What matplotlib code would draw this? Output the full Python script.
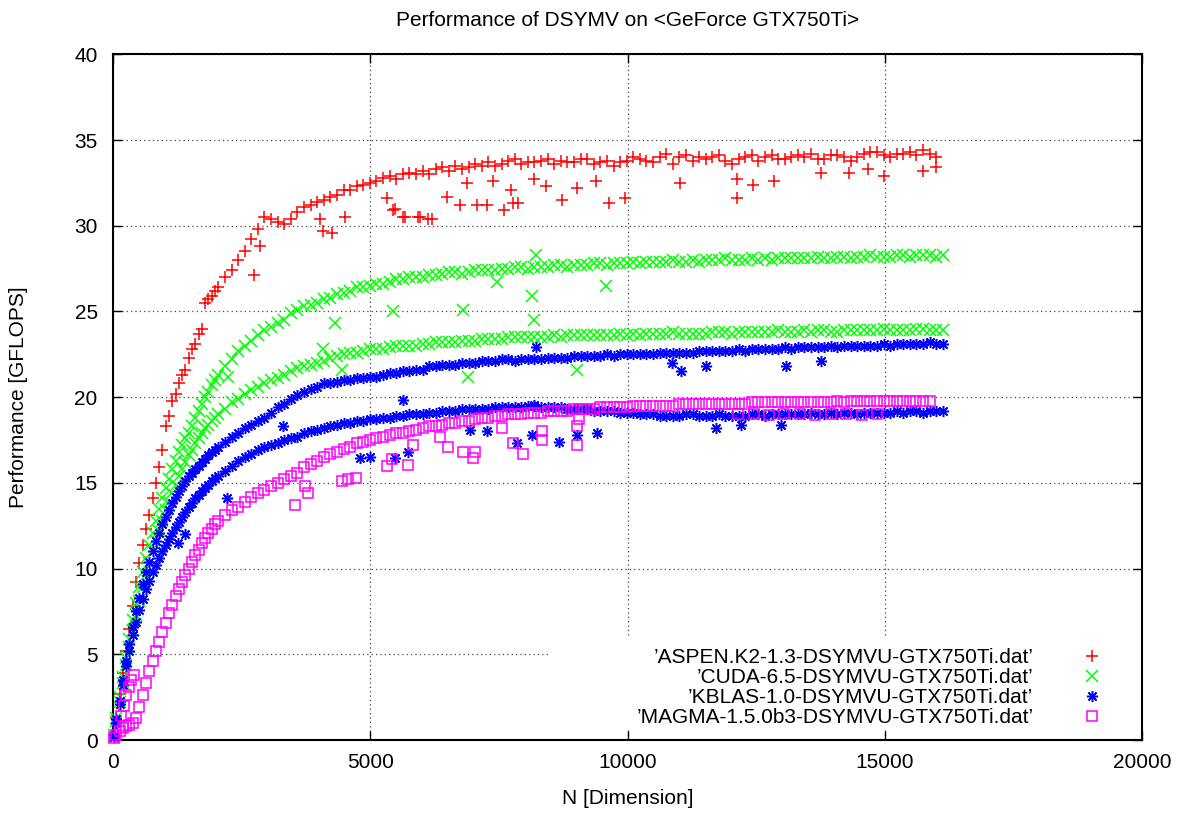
import matplotlib
matplotlib.use("Agg")
import matplotlib.pyplot as plt
from matplotlib.patches import Rectangle

plt.rcParams['font.family'] = ['Liberation Sans', 'DejaVu Sans']
nan = float('nan')

# matrix dimension sweep
N_LO = [16, 64, 128, 192, 256, 320, 384, 448,
        512, 576, 640, 704, 768, 832, 896, 960,
        1024, 1088, 1152, 1216, 1280, 1344, 1408, 1472,
        1536, 1600, 1664, 1728, 1792, 1856, 1920, 1984]
N_HI = [2048, 2176, 2304, 2432, 2560, 2688, 2816, 2944,
        3072, 3200, 3328, 3456, 3584, 3712, 3840, 3968,
        4096, 4224, 4352, 4480, 4608, 4736, 4864, 4992,
        5120, 5248, 5376, 5504, 5632, 5760, 5888, 6016,
        6144, 6272, 6400, 6528, 6656, 6784, 6912, 7040,
        7168, 7296, 7424, 7552, 7680, 7808, 7936, 8064,
        8192, 8320, 8448, 8576, 8704, 8832, 8960, 9088,
        9216, 9344, 9472, 9600, 9728, 9856, 9984, 10112,
        10240, 10368, 10496, 10624, 10752, 10880, 11008, 11136,
        11264, 11392, 11520, 11648, 11776, 11904, 12032, 12160,
        12288, 12416, 12544, 12672, 12800, 12928, 13056, 13184,
        13312, 13440, 13568, 13696, 13824, 13952, 14080, 14208,
        14336, 14464, 14592, 14720, 14848, 14976, 15104, 15232,
        15360, 15488, 15616, 15744, 15872, 16000, 16128, 16256]
N = N_LO + N_HI

# ASPEN.K2 [GFLOPS]
aspen = [0.3, 1.3, 2.7, 3.9, 5.2, 6.5, 7.8, 9.2,
         10.3, 11.4, 12.3, 13.1, 14.1, 15.0, 15.9, 16.9,
         18.3, 18.9, 19.8, 20.2, 20.8, 21.3, 21.6, 22.3,
         22.8, 23.1, 23.7, 24.0, 25.5, 25.7, 25.9, 26.2,
         26.4, 27.0, 27.4, 28.0, 28.5, 29.2, 29.8, 30.5,
         30.4, 30.2, 30.1, 30.4, 30.8, 31.1, 31.2, 31.4,
         31.5, 31.7, 31.8, 32.1, 32.1, 32.3, 32.4, 32.5,
         32.6, 32.8, 32.9, 32.7, 33.0, 33.1, 33.0, 33.2,
         33.0, 33.3, 33.4, 33.2, 33.5, 33.3, 33.4, 33.6,
         33.5, 33.7, 33.5, 33.6, 33.8, 33.9, 33.6, 33.7,
         33.7, 33.8, 33.9, 33.6, 33.8, 33.7, 33.7, 33.9,
         33.9, 33.6, 33.7, 33.8, 33.5, 33.7, 33.8, 34.0,
         33.9, 33.8, 33.7, 34.0, 34.2, 33.6, 34.0, 34.1,
         33.8, 34.0, 33.9, 34.0, 34.1, 33.8, 33.6, 33.9,
         34.0, 34.1, 33.8, 34.0, 34.1, 33.9, 33.9, 34.0,
         34.1, 34.0, 34.2, 33.9, 33.9, 34.1, 34.1, 34.0,
         33.8, 34.0, 34.2, 34.3, 34.3, 34.1, 34.0, 34.2,
         34.2, 34.3, 34.1, 34.4, 34.2, 34.0, nan, nan]
aspen_out_n = [2744, 2860, 4028, 4086, 4256, 4515, 5326, 5449, 5488, 5643,
               5683, 5935, 5974, 6130, 6200, 6494, 6753, 6883, 7077, 7272,
               7395, 7590, 7726, 7784, 7880, 8175, 8407, 8730, 9023, 9380,
               9632, 9944, 11015, 12123, 12136, 12448, 12846, 13760, 14305, 14670,
               14986, 15737, 16000]
aspen_out_v = [27.1, 28.8, 30.4, 29.7, 29.6, 30.5, 31.6, 30.9, 31.0, 30.5,
               30.5, 30.5, 30.5, 30.4, 30.4, 31.7, 31.2, 32.5, 31.2, 31.2,
               32.6, 30.9, 32.1, 31.3, 31.3, 32.7, 32.3, 31.5, 32.2, 32.6,
               31.3, 31.6, 32.5, 31.6, 32.7, 32.4, 32.6, 33.1, 33.1, 33.3,
               32.9, 33.2, 33.4]

# CUDA-6.5, runs split into two performance levels
cuda_hi = [0.3, 1.3, 2.5, 3.7, 4.8, 5.9, 7.0, 8.0,
           8.9, 9.8, 10.6, 11.4, 12.1, 12.8, 13.5, 14.1,
           14.7, 15.2, 15.8, 16.3, 16.8, 17.2, 17.6, 17.9,
           18.3, 18.8, 19.2, 19.6, 20.0, 20.3, 20.7, 21.0,
           21.3, 21.8, 22.2, 22.7, 23.0, 23.3, 23.6, 23.9,
           24.1, 24.3, 24.5, 24.9, 25.1, 25.3, 25.4, 25.5,
           25.7, 25.8, 26.0, 26.1, 26.2, 26.4, 26.4, 26.5,
           26.6, 26.6, 26.7, 26.9, 26.9, 27.0, 27.0, 27.0,
           27.1, 27.1, 27.2, 27.3, 27.3, 27.2, 27.3, 27.4,
           27.4, 27.4, 27.4, 27.5, 27.5, 27.6, 27.6, 27.5,
           27.6, 27.6, 27.6, 27.7, 27.7, 27.6, 27.7, 27.7,
           27.7, 27.8, 27.8, 27.7, 27.8, 27.8, 27.8, 27.9,
           27.8, 27.9, 27.9, 27.9, 27.9, 28.0, 27.9, 27.9,
           28.0, 27.9, 28.0, 28.0, 28.0, 28.1, 28.0, 28.0,
           28.0, 28.1, 28.0, 28.1, 28.0, 28.1, 28.1, 28.1,
           28.1, 28.1, 28.1, 28.2, 28.1, 28.1, 28.2, 28.2,
           28.1, 28.2, 28.2, 28.3, 28.2, 28.2, 28.2, 28.3,
           28.3, 28.2, 28.3, 28.3, 28.3, 28.2, 28.3, nan]
cuda_lo = [0.2, 1.1, 2.2, 3.3, 4.4, 5.4, 6.4, 7.3,
           8.1, 8.9, 9.6, 10.3, 11.0, 11.6, 12.2, 12.8,
           13.4, 13.9, 14.4, 14.9, 15.4, 15.8, 16.2, 16.6,
           16.9, 17.3, 17.6, 17.9, 18.2, 18.4, 18.6, 18.8,
           19.0, 19.3, 19.7, 19.9, 20.2, 20.4, 20.6, 20.8,
           21.0, 21.1, 21.3, 21.5, 21.7, 21.8, 21.9, 22.0,
           22.1, 22.3, 22.4, 22.5, 22.6, 22.6, 22.7, 22.8,
           22.8, 22.8, 22.9, 23.0, 23.0, 23.0, 23.0, 23.1,
           23.1, 23.2, 23.2, 23.2, 23.2, 23.3, 23.3, 23.3,
           23.4, 23.4, 23.4, 23.4, 23.5, 23.5, 23.5, 23.5,
           23.5, 23.5, 23.5, 23.6, 23.5, 23.6, 23.6, 23.6,
           23.6, 23.6, 23.6, 23.6, 23.6, 23.7, 23.6, 23.7,
           23.6, 23.7, 23.7, 23.7, 23.7, 23.8, 23.7, 23.7,
           23.7, 23.7, 23.7, 23.8, 23.8, 23.8, 23.7, 23.8,
           23.8, 23.8, 23.8, 23.8, 23.8, 23.9, 23.8, 23.8,
           23.8, 23.9, 23.8, 23.9, 23.9, 23.8, 23.8, 23.9,
           23.9, 23.9, 23.9, 23.9, 23.9, 24.0, 23.9, 23.9,
           23.9, 23.9, 24.0, 24.0, 23.9, 23.9, 23.9, nan]
cuda_out_n = [2238, 4086, 4320, 4450, 5449, 6811, 6908, 7466, 8147, 8175, 8212, 9023, 9574]
cuda_out_v = [21.2, 22.8, 24.3, 21.6, 25.0, 25.1, 21.2, 26.7, 25.9, 24.5, 28.3, 21.6, 26.5]

# KBLAS-1.0, two performance levels
kblas_hi = [0.3, 1.2, 2.3, 3.5, 4.6, 5.6, 6.6, 7.5,
            8.3, 9.1, 9.8, 10.4, 11.0, 11.6, 12.1, 12.6,
            13.0, 13.4, 13.8, 14.2, 14.5, 14.8, 15.1, 15.4,
            15.6, 15.8, 16.0, 16.2, 16.4, 16.6, 16.8, 16.9,
            17.1, 17.4, 17.7, 17.9, 18.2, 18.4, 18.6, 18.8,
            19.1, 19.4, 19.6, 19.9, 20.1, 20.3, 20.5, 20.6,
            20.8, 20.8, 20.9, 21.0, 21.0, 21.1, 21.1, 21.2,
            21.2, 21.3, 21.4, 21.4, 21.5, 21.5, 21.6, 21.6,
            21.8, 21.8, 21.9, 21.9, 21.9, 22.0, 22.0, 22.0,
            22.1, 22.1, 22.1, 22.2, 22.2, 22.1, 22.2, 22.2,
            22.2, 22.2, 22.3, 22.3, 22.3, 22.3, 22.4, 22.4,
            22.4, 22.4, 22.4, 22.5, 22.4, 22.5, 22.5, 22.5,
            22.5, 22.5, 22.5, 22.6, 22.6, 22.6, 22.6, 22.6,
            22.6, 22.7, 22.7, 22.7, 22.7, 22.7, 22.7, 22.8,
            22.7, 22.8, 22.8, 22.8, 22.8, 22.8, 22.9, 22.8,
            22.9, 22.9, 22.9, 22.9, 22.9, 23.0, 22.9, 23.0,
            23.0, 23.0, 23.0, 23.0, 23.0, 23.1, 23.0, 23.1,
            23.1, 23.1, 23.1, 23.1, 23.2, 23.1, 23.1, nan]
kblas_lo = [0.2, 1.0, 2.1, 3.2, 4.3, 5.2, 6.1, 6.9,
            7.6, 8.2, 8.8, 9.3, 9.8, 10.2, 10.6, 11.0,
            11.4, 11.7, 12.1, 12.4, 12.7, 13.0, 13.3, 13.6,
            13.8, 14.1, 14.3, 14.5, 14.7, 14.9, 15.1, 15.3,
            15.4, 15.7, 16.0, 16.3, 16.5, 16.7, 16.9, 17.1,
            17.2, 17.3, 17.5, 17.6, 17.7, 17.9, 18.0, 18.1,
            18.2, 18.3, 18.4, 18.5, 18.5, 18.6, 18.6, 18.7,
            18.7, 18.8, 18.8, 18.9, 18.9, 19.0, 19.0, 19.0,
            19.1, 19.1, 19.2, 19.2, 19.2, 19.3, 19.3, 19.3,
            19.3, 19.3, 19.4, 19.4, 19.4, 19.4, 19.4, 19.5,
            19.5, 19.4, 19.4, 19.4, 19.4, 19.3, 19.3, 19.3,
            19.3, 19.2, 19.2, 19.2, 19.2, 19.1, 19.1, 19.1,
            19.0, 19.0, 19.0, 18.9, 18.9, 18.9, 18.9, 19.0,
            19.0, 18.9, 18.9, 18.9, 19.0, 18.9, 18.9, 18.9,
            18.9, 19.0, 19.0, 18.9, 19.0, 19.0, 19.0, 19.0,
            19.0, 19.0, 19.1, 19.0, 19.0, 19.1, 19.0, 19.1,
            19.1, 19.0, 19.1, 19.1, 19.1, 19.1, 19.1, 19.2,
            19.1, 19.2, 19.2, 19.1, 19.2, 19.2, 19.2, nan]
kblas_out_n = [1265, 1401, 2212, 3308, 4806, 5000, 5488, 5643, 5741, 6947,
               7272, 7856, 8147, 8175, 8212, 8660, 9023, 9412, 10872, 11034,
               11520, 11714, 12200, 12980, 13077, 13760]
kblas_out_v = [11.5, 12.0, 14.1, 18.3, 16.45, 16.5, 16.45, 19.85, 16.8, 18.1,
               18.0, 17.3, 17.8, 19.55, 22.95, 17.4, 17.8, 17.9, 22.0, 21.5,
               21.8, 18.2, 18.4, 18.4, 21.8, 22.1]

# MAGMA-1.5.0b3
magma = [0.1, 0.3, 0.5, 0.7, 0.8, 0.9, 1.0, 1.3,
         1.9, 2.6, 3.3, 4.0, 4.6, 5.2, 5.7, 6.3,
         6.8, 7.4, 7.9, 8.4, 8.8, 9.2, 9.6, 10.0,
         10.4, 10.8, 11.1, 11.5, 11.8, 12.1, 12.3, 12.6,
         12.8, 13.1, 13.4, 13.6, 13.9, 14.2, 14.4, 14.6,
         14.8, 15.0, 15.2, 15.4, 15.6, 15.9, 16.1, 16.3,
         16.5, 16.7, 16.8, 17.0, 17.1, 17.3, 17.4, 17.5,
         17.6, 17.7, 17.8, 17.9, 17.9, 18.0, 18.1, 18.2,
         18.3, 18.3, 18.4, 18.5, 18.5, 18.6, 18.6, 18.7,
         18.8, 18.8, 18.9, 18.9, 19.0, 19.0, 19.0, 19.1,
         19.1, 19.1, 19.2, 19.2, 19.2, 19.2, 19.3, 19.3,
         19.3, 19.3, 19.4, 19.4, 19.4, 19.4, 19.4, 19.5,
         19.5, 19.5, 19.5, 19.5, 19.5, 19.5, 19.6, 19.6,
         19.6, 19.6, 19.6, 19.6, 19.6, 19.6, 19.6, 19.6,
         19.6, 19.7, 19.7, 19.7, 19.7, 19.7, 19.7, 19.7,
         19.7, 19.7, 19.7, 19.7, 19.7, 19.7, 19.8, 19.7,
         19.8, 19.8, 19.8, 19.8, 19.8, 19.8, 19.8, 19.8,
         19.8, 19.8, 19.8, 19.8, 19.8, nan, nan, nan]
magma_out_n = [160, 208, 256, 304, 352, 400,
               3542, 3736, 3795, 4450, 4573, 4729, 5326, 5423, 5741, 5838,
               6363, 6519, 6811, 7006, 7045, 7564, 7784, 7978, 8342, 8342,
               9023, 9023, 9050, 12150, 12450, 12750, 13050, 13350, 13650, 13950,
               14250, 14550, 14850]
magma_out_v = [1.4, 2.0, 2.6, 3.1, 3.5, 3.8,
               13.7, 14.8, 14.4, 15.1, 15.2, 15.3, 16.0, 16.4, 16.05, 17.2,
               17.65, 17.1, 16.8, 16.45, 16.8, 18.2, 17.3, 16.7, 18.0, 17.5,
               18.3, 17.2, 18.7, 19.0, 19.0, 18.95, 19.0, 19.0, 18.95, 19.0,
               19.0, 18.95, 19.0]

for arr in (aspen, cuda_hi, cuda_lo, kblas_hi, kblas_lo, magma):
    assert len(arr) == len(N), len(arr)

labels = ["\u2019ASPEN.K2-1.3-DSYMVU-GTX750Ti.dat\u2019",
          "\u2019CUDA-6.5-DSYMVU-GTX750Ti.dat\u2019",
          "\u2019KBLAS-1.0-DSYMVU-GTX750Ti.dat\u2019",
          "\u2019MAGMA-1.5.0b3-DSYMVU-GTX750Ti.dat\u2019"]

series = [
    (N + aspen_out_n, aspen + aspen_out_v, '+', '#ff0000'),
    (N + N + cuda_out_n, cuda_hi + cuda_lo + cuda_out_v, 'x', '#00ff00'),
    (N + N + kblas_out_n, kblas_hi + kblas_lo + kblas_out_v, (8, 2, 0), '#0000ff'),
    (N + magma_out_n, magma + magma_out_v, 's', '#ff00ff'),
]

fig = plt.figure(figsize=(11.87, 8.14), dpi=100)
ax = fig.add_axes([0.0952, 0.0909, 0.8669, 0.8424])

for (x, y, m, c), lab in zip(series, labels):
    ms = 7.5 if m == 's' else 8.0
    ax.plot(x, y, linestyle='none', marker=m, markersize=ms,
            markeredgewidth=1.1, markeredgecolor=c,
            markerfacecolor='none', color=c, label=lab, clip_on=False, zorder=3)

ax.set_xlim(0, 20000)
ax.set_ylim(0, 40)
ax.set_xticks([0, 5000, 10000, 15000, 20000])
ax.set_yticks(range(0, 41, 5))
ax.set_axisbelow(True)
ax.grid(True, color='#444444', linestyle=(0, (1, 2.5)), linewidth=0.9)
for s in ax.spines.values():
    s.set_linewidth(1.5)
ax.tick_params(direction='in', length=6.5, width=1.0, top=True, right=True,
               labelsize=15)
ax.tick_params(axis='y', pad=11)
ax.tick_params(axis='x', pad=9)

fig.text(0.5285, 1 - 20 / 814, "Performance of DSYMV on <GeForce GTX750Ti>",
         ha='center', va='center', fontsize=15)
ax.set_xlabel("N [Dimension]", fontsize=15)
ax.xaxis.set_label_coords(0.5, -0.0846)
ax.xaxis.label.set_va('center')
ax.set_ylabel("Performance [GFLOPS]", fontsize=15)
ax.yaxis.set_label_coords(-0.0923, 0.5)
ax.yaxis.label.set_va('center')

# white key area that hides the grid, as gnuplot does
ax.add_patch(Rectangle((0.4227, 0.0175), 0.5773, 0.1325, transform=ax.transAxes,
                       facecolor='white', edgecolor='none', zorder=1.5))

leg = ax.legend(loc='lower right', bbox_to_anchor=(0.9815, 0.0035),
                markerfirst=False, fontsize=15, frameon=False,
                handlelength=2.0, handletextpad=1.8, labelspacing=0.05,
                borderpad=0.5, borderaxespad=0.0)
leg.set_zorder(2)

fig.savefig("out.png", dpi=100)
